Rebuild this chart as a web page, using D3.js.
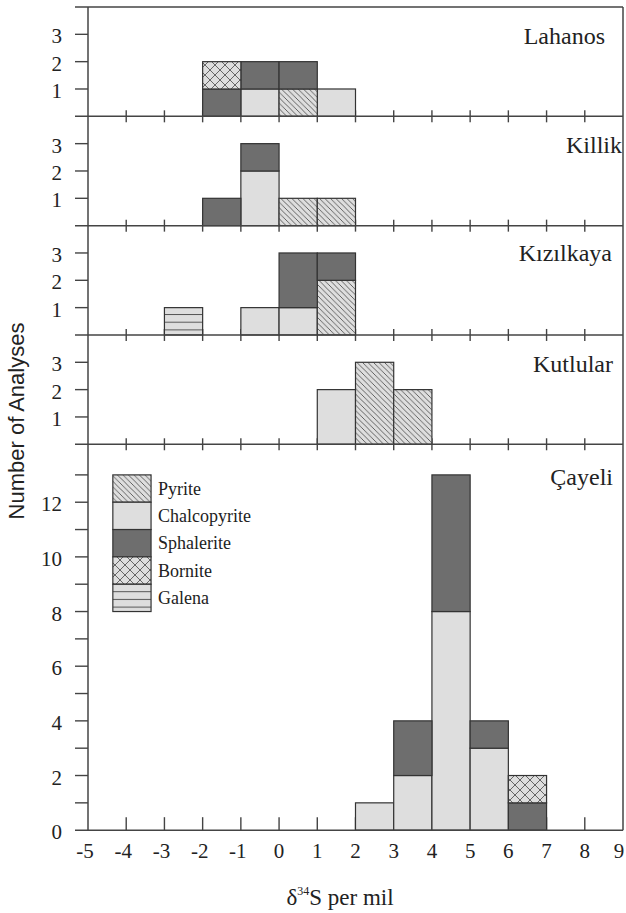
<!DOCTYPE html>
<html>
<head>
<meta charset="utf-8">
<script src="https://cdn.jsdelivr.net/npm/d3@7"></script>
<style>
  html, body { margin: 0; padding: 0; background: #fff; }
  svg { display: block; }
  text { fill: #222; }
</style>
</head>
<body>
<svg id="chart" width="626" height="913"></svg>
<script>
// mineral stack order (bottom -> top)
const minerals = ["Chalcopyrite", "Pyrite", "Galena", "Sphalerite", "Bornite"];
const legendOrder = ["Pyrite", "Chalcopyrite", "Sphalerite", "Bornite", "Galena"];

const sites = ["Lahanos", "Killik", "Kızılkaya", "Kutlular", "Çayeli"];

// bins are [bin, bin+1) in per mil
const lahanos = [
  { bin: -2, Sphalerite: 1, Bornite: 1 },
  { bin: -1, Chalcopyrite: 1, Sphalerite: 1 },
  { bin: 0, Pyrite: 1, Sphalerite: 1 },
  { bin: 1, Chalcopyrite: 1 },
];
const killik = [
  { bin: -2, Sphalerite: 1 },
  { bin: -1, Chalcopyrite: 2, Sphalerite: 1 },
  { bin: 0, Pyrite: 1 },
  { bin: 1, Pyrite: 1 },
];
const kizilkaya = [
  { bin: -3, Galena: 1 },
  { bin: -1, Chalcopyrite: 1 },
  { bin: 0, Chalcopyrite: 1, Sphalerite: 2 },
  { bin: 1, Pyrite: 2, Sphalerite: 1 },
];
const kutlular = [
  { bin: 1, Chalcopyrite: 2 },
  { bin: 2, Pyrite: 3 },
  { bin: 3, Pyrite: 2 },
];
const cayeli = [
  { bin: 2, Chalcopyrite: 1 },
  { bin: 3, Chalcopyrite: 2, Sphalerite: 2 },
  { bin: 4, Chalcopyrite: 8, Sphalerite: 5 },
  { bin: 5, Chalcopyrite: 3, Sphalerite: 1 },
  { bin: 6, Sphalerite: 1, Bornite: 1 },
];
const siteData = [lahanos, killik, kizilkaya, kutlular, cayeli];

const yMax = [4, 4, 4, 4, 14.12];
const xTicks = d3.range(-5, 10);
const smallTicks = [1, 2, 3];
const bigTicks = d3.range(1, 14);
const bigLabels = [0, 2, 4, 6, 8, 10, 12];

// ------------------------------------------------------------------
// layout
// ------------------------------------------------------------------
const svg = d3.select("#chart");
const plotLeft = 88, plotRight = 623, plotTop = 7;
const unit = 27.33;          // px per analysis
const labelRight = [605, 622, 612, 613, 613];
const labelDrop = [37, 37, 35, 37, 41];

const x = d3.scaleLinear().domain([-5, 9]).range([plotLeft, plotRight]);
const binW = x(1) - x(0);

let yCursor = plotTop;
const panels = yMax.map((m, i) => {
  const h = m * unit;
  const p = { i, top: yCursor, bottom: yCursor + h,
    y: d3.scaleLinear().domain([0, m]).range([yCursor + h, yCursor]) };
  yCursor += h;
  return p;
});
const plotBottom = panels[panels.length - 1].bottom;

const FILL = { light: "#dedede", dark: "#6e6e6e", line: "#333" };
const serif = "'Liberation Serif', 'Times New Roman', serif";

// ------------------------------------------------------------------
// patterns
// ------------------------------------------------------------------
const defs = svg.append("defs");

const pyr = defs.append("pattern").attr("id", "pat-pyrite")
  .attr("patternUnits", "userSpaceOnUse").attr("width", 5.5).attr("height", 5.5);
pyr.append("rect").attr("width", 5.5).attr("height", 5.5).attr("fill", FILL.light);
pyr.append("path").attr("d", "M0,0 L5.5,5.5 M-1,4.5 L1,6.5 M4.5,-1 L6.5,1")
  .attr("stroke", "#555").attr("stroke-width", 0.9);

const bor = defs.append("pattern").attr("id", "pat-bornite")
  .attr("patternUnits", "userSpaceOnUse").attr("width", 10).attr("height", 10);
bor.append("rect").attr("width", 10).attr("height", 10).attr("fill", FILL.light);
bor.append("path").attr("d", "M0,0 L10,10 M10,0 L0,10")
  .attr("stroke", "#666").attr("stroke-width", 1);

const gal = defs.append("pattern").attr("id", "pat-galena")
  .attr("patternUnits", "userSpaceOnUse").attr("width", 10).attr("height", 7.7)
  .attr("y", 6);
gal.append("rect").attr("width", 10).attr("height", 7.7).attr("fill", FILL.light);
gal.append("path").attr("d", "M0,0.5 L10,0.5").attr("stroke", "#555").attr("stroke-width", 1);

const mineralFill = {
  Chalcopyrite: FILL.light,
  Sphalerite: FILL.dark,
  Pyrite: "url(#pat-pyrite)",
  Bornite: "url(#pat-bornite)",
  Galena: "url(#pat-galena)",
};

// ------------------------------------------------------------------
// axes / ticks
// ------------------------------------------------------------------
const axisG = svg.append("g").attr("stroke", "#444").attr("stroke-width", 1.4);

// x ticks on each panel bottom
panels.forEach((p, i) => {
  const last = i === panels.length - 1;
  axisG.append("g").selectAll("line")
    .data(xTicks.slice(1, -1))
    .join("line")
    .attr("x1", d => x(d)).attr("x2", d => x(d))
    .attr("y1", p.bottom - (last ? 13 : 6))
    .attr("y2", p.bottom + (last ? 0 : 6));
});

// y ticks
panels.forEach((p, i) => {
  const last = i === panels.length - 1;
  const ticks = last ? bigTicks : smallTicks;
  const labels = last ? bigLabels : smallTicks;
  axisG.append("g").selectAll("line")
    .data(ticks)
    .join("line")
    .attr("x1", plotLeft - 13).attr("x2", plotLeft)
    .attr("y1", d => p.y(d)).attr("y2", d => p.y(d));
  svg.append("g").selectAll("text")
    .data(labels)
    .join("text")
    .attr("x", plotLeft - 26)
    .attr("y", d => p.y(d) + 9)
    .attr("text-anchor", "end")
    .attr("font-family", serif)
    .attr("font-size", 21)
    .text(d => d);
});

// ------------------------------------------------------------------
// bars
// ------------------------------------------------------------------
const stack = d3.stack().keys(minerals).value((d, k) => d[k] || 0);

panels.forEach((p, i) => {
  const series = stack(siteData[i]);
  const g = svg.append("g");
  series.forEach(s => {
    g.selectAll(null)
      .data(s.filter(d => d[1] > d[0]))
      .join("rect")
      .attr("x", d => x(d.data.bin))
      .attr("width", binW)
      .attr("y", d => p.y(d[1]))
      .attr("height", d => p.y(d[0]) - p.y(d[1]))
      .attr("fill", mineralFill[s.key])
      .attr("stroke", FILL.line)
      .attr("stroke-width", 1.2);
  });

  svg.append("text")
    .attr("x", labelRight[i])
    .attr("y", p.top + labelDrop[i])
    .attr("text-anchor", "end")
    .attr("font-family", serif)
    .attr("font-size", 24)
    .text(sites[i]);
});

// panel separators and frame
const frame = svg.append("g").attr("stroke", "#444").attr("stroke-width", 1.5);
frame.selectAll("line.h")
  .data([plotTop, ...panels.map(p => p.bottom)])
  .join("line")
  .attr("x1", plotLeft - 13).attr("x2", plotRight)
  .attr("y1", d => d).attr("y2", d => d);
frame.append("line").attr("x1", plotLeft).attr("x2", plotLeft)
  .attr("y1", plotTop).attr("y2", plotBottom);
frame.append("line").attr("x1", plotRight).attr("x2", plotRight)
  .attr("y1", plotTop).attr("y2", plotBottom);

// x tick labels
svg.append("g").selectAll("text")
  .data(xTicks)
  .join("text")
  .attr("x", d => Math.min(x(d) + (d < 0 ? -3 : 0), 619))
  .attr("y", plotBottom + 28)
  .attr("text-anchor", "middle")
  .attr("font-family", serif)
  .attr("font-size", 21)
  .text(d => d);

// ------------------------------------------------------------------
// legend (inside Çayeli panel)
// ------------------------------------------------------------------
const cay = panels[panels.length - 1];
const leg = svg.append("g");
legendOrder.forEach((m, k) => {
  const yTop = cay.y(13 - k);
  leg.append("rect")
    .attr("x", x(-4.35)).attr("width", binW)
    .attr("y", yTop).attr("height", unit)
    .attr("fill", mineralFill[m])
    .attr("stroke", FILL.line).attr("stroke-width", 1.2);
  leg.append("text")
    .attr("x", x(-4.35) + binW + 7)
    .attr("y", yTop + unit / 2 + 6)
    .attr("font-family", serif)
    .attr("font-size", 18)
    .text(m);
});

// ------------------------------------------------------------------
// titles
// ------------------------------------------------------------------
const xt = svg.append("text")
  .attr("x", 340)
  .attr("y", 905)
  .attr("text-anchor", "middle")
  .attr("font-family", serif)
  .attr("font-size", 23);
xt.append("tspan").text("δ");
xt.append("tspan").attr("font-size", 12).attr("dy", -10).text("34");
xt.append("tspan").attr("dy", 10).text("S per mil");

svg.append("text")
  .attr("transform", "translate(24,421) rotate(-90)")
  .attr("text-anchor", "middle")
  .attr("font-family", "'Liberation Sans', Arial, sans-serif")
  .attr("font-size", 22)
  .text("Number of Analyses");
</script>
</body>
</html>
